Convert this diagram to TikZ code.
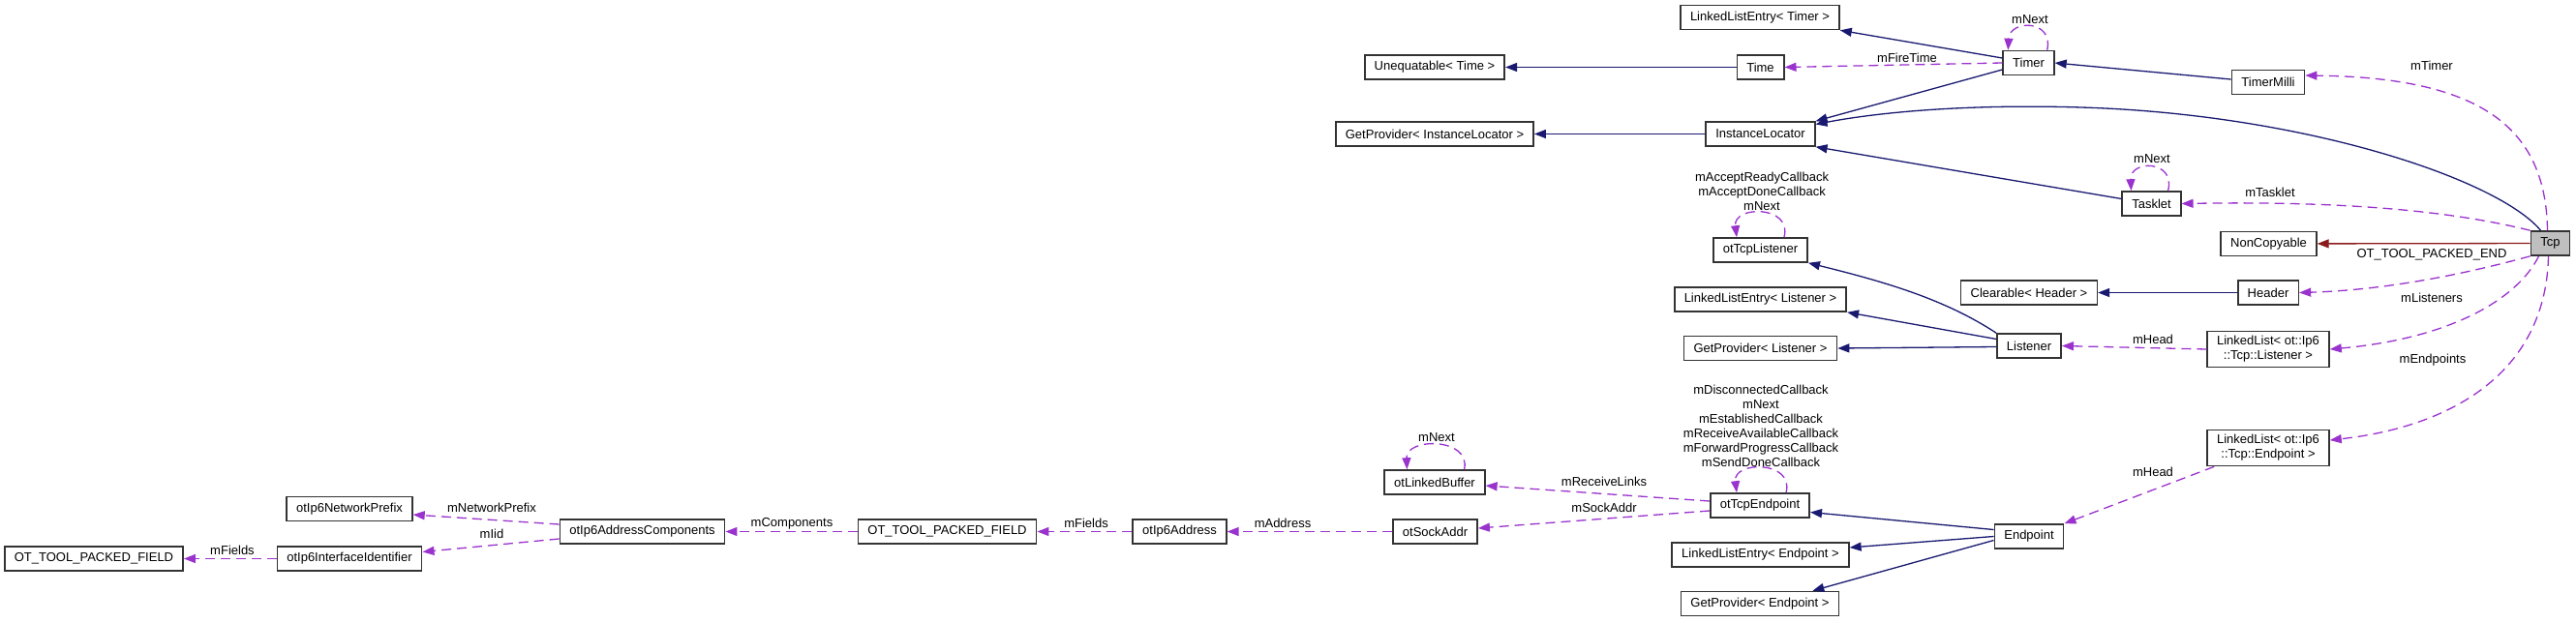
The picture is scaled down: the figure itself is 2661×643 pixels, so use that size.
\documentclass[tikz,border=0pt]{standalone}
\usepackage{fontspec}
\setmainfont{Liberation Sans}
\definecolor{inheritblue}{HTML}{191970}
\definecolor{usagepurple}{HTML}{9A32CD}
\definecolor{privatered}{HTML}{8B1A1A}
\definecolor{focusgray}{HTML}{BFBFBF}
\usetikzlibrary{arrows.meta}

\begin{document}
\begin{tikzpicture}[x=1pt, y=-1pt,
  every node/.style={font=\fontsize{13}{15}\selectfont},
  cls/.style={rectangle, draw=black!80, line width=1.6pt, fill=white,
              minimum height=25pt, inner xsep=10pt, inner ysep=5pt, align=center},
  lbl/.style={inner sep=0pt, align=center},
  inherit/.style={-{Triangle[length=12pt,width=9pt]}, line width=1.3pt, draw=inheritblue},
  privinherit/.style={-{Triangle[length=12pt,width=9pt]}, line width=1.3pt, draw=privatered},
  usage/.style={-{Triangle[length=12pt,width=9pt]}, line width=1.3pt, draw=usagepurple,
                dash pattern=on 10pt off 6pt}
]
  \useasboundingbox (0,0) rectangle (2661,643);

  % classes
  \node[cls] (llentimer)      at (1818,18)     {LinkedListEntry< Timer >};
  \node[cls] (unequatable)    at (1482,69.5)   {Unequatable< Time >};
  \node[cls] (time)           at (1818.5,69.5) {Time};
  \node[cls] (timer)          at (2095.5,65)   {Timer};
  \node[cls] (timermilli)     at (2343,85)     {TimerMilli};
  \node[cls] (gpinst)         at (1482,138.5)  {GetProvider< InstanceLocator >};
  \node[cls] (instloc)        at (1818.5,138.5){InstanceLocator};
  \node[cls] (tasklet)        at (2222.5,210.5){Tasklet};
  \node[cls] (noncopyable)    at (2343.5,252)  {NonCopyable};
  \node[cls, fill=focusgray] (tcp) at (2634.5,251.5) {Tcp};
  \node[cls] (ottcplistener)  at (1818.5,258.5){otTcpListener};
  \node[cls] (clearable)      at (2096,302.5)  {Clearable< Header >};
  \node[cls] (header)         at (2343,302.5)  {Header};
  \node[cls] (llelistener)    at (1818.5,309.5){LinkedListEntry< Listener >};
  \node[cls] (gplistener)     at (1818.5,360)  {GetProvider< Listener >};
  \node[cls] (listener)       at (2096,357.5)  {Listener};
  \node[cls] (llistlistener)  at (2343,361)    {LinkedList< ot::Ip6\\::Tcp::Listener >};
  \node[cls] (llistendpoint)  at (2343,463)    {LinkedList< ot::Ip6\\::Tcp::Endpoint >};
  \node[cls] (otlinkedbuffer) at (1482,498.5)  {otLinkedBuffer};
  \node[cls] (ottcpendpoint)  at (1818,522.5)  {otTcpEndpoint};
  \node[cls] (otsockaddr)     at (1482.5,549.5){otSockAddr};
  \node[cls] (endpoint)       at (2096,554.5)  {Endpoint};
  \node[cls] (lleendpoint)    at (1818.5,573.5){LinkedListEntry< Endpoint >};
  \node[cls] (gpendpoint)     at (1818,624)    {GetProvider< Endpoint >};
  \node[cls] (otipaddr)       at (1218.5,549.5){otIp6Address};
  \node[cls] (packedmid)      at (978.5,549.5) {OT\_TOOL\_PACKED\_FIELD};
  \node[cls] (otipcomp)       at (663.5,549.5) {otIp6AddressComponents};
  \node[cls] (otipprefix)     at (361,526)     {otIp6NetworkPrefix};
  \node[cls] (otipiid)        at (361,577.5)   {otIp6InterfaceIdentifier};
  \node[cls] (packedleft)     at (97,577.5)    {OT\_TOOL\_PACKED\_FIELD};

  % base classes
  \draw[inherit] ([yshift=5pt]timer.west) -- (llentimer.south east);
  \draw[inherit] (time) -- (unequatable);
  \draw[inherit] ([yshift=-7pt]timer.west) -- (instloc.north east);
  \draw[inherit] ([yshift=3pt]timermilli.west) -- (timer.east);
  \draw[inherit] ([xshift=-10pt]tcp.north) .. controls (2580,185) and (2380,118) .. (2150,111)
                 .. controls (2020,107) and (1930,118) .. ([yshift=10pt]instloc.east);
  \draw[inherit] ([yshift=5pt]tasklet.west) -- (instloc.south east);
  \draw[inherit] (instloc) -- (gpinst);
  \draw[inherit] (header) -- (clearable);
  \draw[inherit] (listener.north west) .. controls (2010,310) and (1950,292) .. (ottcplistener.south east);
  \draw[inherit] ([yshift=7pt]listener.west) -- (llelistener.south east);
  \draw[inherit] ([yshift=-1pt]listener.west) -- (gplistener.east);
  \draw[inherit] ([yshift=7pt]endpoint.west) -- ([yshift=-7pt]ottcpendpoint.east);
  \draw[inherit] (endpoint.west) -- ([yshift=7.5pt]lleendpoint.east);
  \draw[inherit] ([yshift=-4pt]endpoint.west) -- ([xshift=-28pt]gpendpoint.north east);
  \draw[privinherit] (tcp) -- (noncopyable);

  % members
  \draw[usage] (timer.west) -- (time.east);
  \draw[usage] ([xshift=-8pt]timer.north east) .. controls (2122,20) and (2076,20) .. ([xshift=6pt]timer.north west);
  \draw[usage] ([xshift=-3pt]tcp.north) .. controls (2630,130) and (2560,80) .. ([yshift=7pt]timermilli.east);
  \draw[usage] (tcp.north west) .. controls (2520,215) and (2400,208) .. (tasklet.east);
  \draw[usage] ([xshift=-14pt]tasklet.north east) .. controls (2248,165) and (2200,165) .. ([xshift=10pt]tasklet.north west);
  \draw[usage] (tcp.south west) .. controls (2540,285) and (2460,300) .. (header.east);
  \draw[usage] ([xshift=-12pt]tcp.south) .. controls (2600,310) and (2530,350) .. (llistlistener.east);
  \draw[usage] ([xshift=-2pt]tcp.south) .. controls (2630,380) and (2540,440) .. ([yshift=8pt]llistendpoint.east);
  \draw[usage] (llistlistener.west) -- (listener.east);
  \draw[usage] ([xshift=8pt]llistendpoint.south west) -- (endpoint.north east);
  \draw[usage] ([xshift=-25pt]ottcplistener.north east) .. controls (1852,212) and (1790,212) .. ([xshift=25pt]ottcplistener.north west);
  \draw[usage] ([xshift=-25pt]ottcpendpoint.north east) .. controls (1854,476) and (1790,476) .. ([xshift=28pt]ottcpendpoint.north west);
  \draw[usage] ([yshift=4.5pt]ottcpendpoint.west) -- ([yshift=-3.5pt]otlinkedbuffer.east);
  \draw[usage] ([yshift=-5.5pt]ottcpendpoint.west) -- ([yshift=3.5pt]otsockaddr.east);
  \draw[usage] ([xshift=-22pt]otlinkedbuffer.north east) .. controls (1520,452) and (1452,452) .. ([xshift=24pt]otlinkedbuffer.north west);
  \draw[usage] (otsockaddr) -- (otipaddr);
  \draw[usage] (otipaddr) -- (packedmid);
  \draw[usage] (packedmid) -- (otipcomp);
  \draw[usage] ([yshift=7.5pt]otipcomp.west) -- ([yshift=-6pt]otipprefix.east);
  \draw[usage] ([yshift=-7.5pt]otipcomp.west) -- ([yshift=7pt]otipiid.east);
  \draw[usage] (otipiid) -- (packedleft);

  % member names
  \node[lbl] (lfiretime)   at (1970,60)   {mFireTime};
  \node[lbl] (ltimernext)  at (2097,20)   {mNext};
  \node[lbl] (ltimer)      at (2512,68)   {mTimer};
  \node[lbl] (ltaskletnext) at (2223,164) {mNext};
  \node[lbl] (ltasklet)    at (2345,199)  {mTasklet};
  \node[lbl] (lpacked)     at (2512,263)  {OT\_TOOL\_PACKED\_END};
  \node[lbl] (llisteners)  at (2512,308)  {mListeners};
  \node[lbl] (lheadlst)    at (2224,351)  {mHead};
  \node[lbl] (lendpoints)  at (2513,372)  {mEndpoints};
  \node[lbl] (lheadept)    at (2224,488)  {mHead};
  \node[lbl] (llistencb)   at (1820,198)  {mAcceptReadyCallback\\mAcceptDoneCallback\\mNext};
  \node[lbl] (lendptcb)    at (1819,440)  {mDisconnectedCallback\\mNext\\mEstablishedCallback\\mReceiveAvailableCallback\\mForwardProgressCallback\\mSendDoneCallback};
  \node[lbl] (lbufnext)    at (1484,452)  {mNext};
  \node[lbl] (lrecvlinks)  at (1657,498)  {mReceiveLinks};
  \node[lbl] (lsockaddr)   at (1657,525)  {mSockAddr};
  \node[lbl] (laddress)    at (1325,541)  {mAddress};
  \node[lbl] (lfieldsmid)  at (1122,541)  {mFields};
  \node[lbl] (lcomponents) at (818,541)   {mComponents};
  \node[lbl] (lprefix)     at (508,525)   {mNetworkPrefix};
  \node[lbl] (liid)        at (508,552)   {mIid};
  \node[lbl] (lfieldsleft) at (240,569)   {mFields};
\end{tikzpicture}
\end{document}
